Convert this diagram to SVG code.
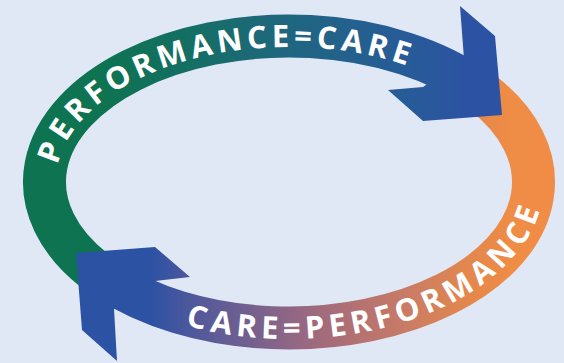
<svg xmlns="http://www.w3.org/2000/svg" width="564" height="363" viewBox="0 0 564 363">
  <defs>
    <linearGradient id="gGreen" gradientUnits="userSpaceOnUse" x1="40" y1="0" x2="510" y2="0">
      <stop offset="0" stop-color="#0D7350"/>
      <stop offset="0.13" stop-color="#0D7350"/>
      <stop offset="0.34" stop-color="#156E66"/>
      <stop offset="0.53" stop-color="#1F6680"/>
      <stop offset="0.77" stop-color="#275C97"/>
      <stop offset="0.92" stop-color="#2C52A4"/>
      <stop offset="1" stop-color="#2C52A4"/>
    </linearGradient>
    <linearGradient id="gOrange" gradientUnits="userSpaceOnUse" x1="140" y1="0" x2="540" y2="0">
      <stop offset="0" stop-color="#2C52A4"/>
      <stop offset="0.025" stop-color="#2C52A4"/>
      <stop offset="0.15" stop-color="#55599A"/>
      <stop offset="0.275" stop-color="#73608F"/>
      <stop offset="0.4" stop-color="#966882"/>
      <stop offset="0.525" stop-color="#B07073"/>
      <stop offset="0.65" stop-color="#C67A68"/>
      <stop offset="0.8" stop-color="#E0864F"/>
      <stop offset="0.925" stop-color="#EF8C45"/>
      <stop offset="1" stop-color="#F08C45"/>
    </linearGradient>
    <path id="topPath" d="M 56 182 A 233 135 0 0 1 522 182"/>
    <path id="botPath" d="M 34 182 A 255 157 0 0 0 544 182"/>
  </defs>
  <style>
    .band { fill: none; stroke-width: 43; stroke-linecap: butt; }
    .label { fill: #FFFFFF; font-family: "Open Sans", "Liberation Sans", sans-serif; font-weight: 700; font-size: 31px; letter-spacing: 4.5px; }
    .bottom { letter-spacing: 5px; }
  </style>
  <rect width="564" height="363" fill="#E1E8F5"/>
  <g id="connectors">
    <path id="green-band" class="band" stroke="url(#gGreen)" d="M 93.7 269.9 A 244.5 146 0 0 1 131.8 70.2 A 244.5 146 0 0 1 476.3 88.2"/>
    <path id="orange-band" class="band" stroke="url(#gOrange)" d="M 481.7 92.1 A 244.5 146 0 0 1 446.2 293.8 A 244.5 146 0 0 1 107.3 279.7"/>
    <polygon id="arrow-top-right" fill="url(#gGreen)" points="460,6 495,36 502,115 423,121 388,90 423,87 464,59"/>
    <polygon id="arrow-bottom-left" fill="url(#gOrange)" points="76,253 155,247 190,277 155,281 114,309 117,361 82,330"/>
  </g>
  <g id="label-top">
    <text class="label" text-anchor="middle"><textPath href="#topPath" startOffset="37%">PERFORMANCE=CARE</textPath></text>
  </g>
  <g id="label-bottom">
    <text class="label bottom" text-anchor="middle"><textPath href="#botPath" startOffset="65.2%">CARE=PERFORMANCE</textPath></text>
  </g>
</svg>
